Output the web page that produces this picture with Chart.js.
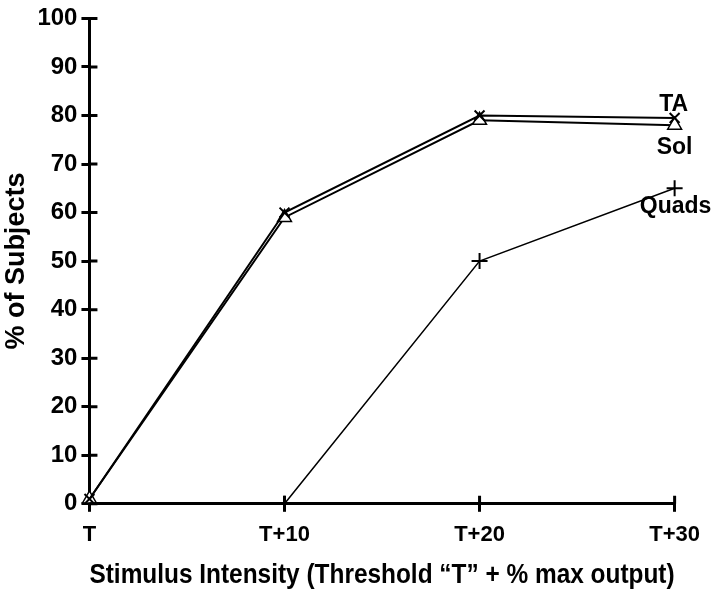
<!DOCTYPE html>
<html>
<head>
<meta charset="utf-8">
<script src="https://cdn.jsdelivr.net/npm/chart.js@4"></script>
<style>
  body { margin: 0; background: #fff; }
  #wrap { width: 720px; height: 592px; }
</style>
</head>
<body>
<div id="wrap"><canvas id="chart" width="720" height="592"></canvas></div>
<script>
const categories = ['T', 'T+10', 'T+20', 'T+30'];
const taValues = [1, 60, 80, 79.5];
const solValues = [1, 59, 79, 78];
const quadsValues = [null, 0, 50, 65];
const seriesNames = ['TA', 'Sol', 'Quads'];
const yTicks = [0, 10, 20, 30, 40, 50, 60, 70, 80, 90, 100];

const FONT = '"Liberation Sans", Arial, sans-serif';

// ticks that cross the axis line (chart.js only draws the outside half)
const innerTicks = {
    id: 'innerTicks',
    afterDraw(chart) {
        const c = chart.ctx;
        const x = chart.scales.x;
        const y = chart.scales.y;
        c.save();
        c.strokeStyle = '#000';
        c.lineWidth = 3;
        c.beginPath();
        yTicks.forEach(v => {
            const py = y.getPixelForValue(v);
            c.moveTo(x.left, py);
            c.lineTo(x.left + 8, py);
        });
        categories.forEach((lab, i) => {
            if (i === 0) return;
            const px = x.getPixelForValue(i);
            c.moveTo(px, y.bottom);
            c.lineTo(px, y.bottom - 8);
        });
        c.stroke();
        c.restore();
    }
};

// series names written next to the last point of each line
const endLabels = {
    id: 'endLabels',
    afterDatasetsDraw(chart) {
        const c = chart.ctx;
        c.save();
        c.fillStyle = '#000';
        c.font = 'bold 23px ' + FONT;
        c.textAlign = 'center';
        const offs = [[-1, -7, 'alphabetic'], [0, 11, 'top'], [1, 7, 'top']];
        chart.data.datasets.forEach((ds, i) => {
            const pts = chart.getDatasetMeta(i).data;
            const p = pts[pts.length - 1];
            c.textBaseline = offs[i][2];
            c.fillText(seriesNames[i], p.x + offs[i][0], p.y + offs[i][1]);
        });
        c.restore();
    }
};

new Chart(document.getElementById('chart'), {
    type: 'line',
    data: {
        labels: categories,
        datasets: [
            {
                label: seriesNames[0],
                data: taValues,
                borderColor: '#000',
                borderWidth: 2,
                pointStyle: 'crossRot',
                pointRadius: 7,
                pointBorderColor: '#000',
                pointBorderWidth: 2,
                tension: 0
            },
            {
                label: seriesNames[1],
                data: solValues,
                borderColor: '#000',
                borderWidth: 2,
                pointStyle: 'triangle',
                pointRadius: 8,
                pointBackgroundColor: '#fff',
                pointBorderColor: '#000',
                pointBorderWidth: 1.5,
                tension: 0
            },
            {
                label: seriesNames[2],
                data: quadsValues,
                borderColor: '#000',
                borderWidth: 1.5,
                pointStyle: 'cross',
                pointRadius: 8,
                pointBorderColor: '#000',
                pointBorderWidth: 2,
                tension: 0
            }
        ]
    },
    options: {
        responsive: false,
        animation: false,
        layout: { padding: { top: 12, right: 40, left: 0, bottom: 0 } },
        plugins: {
            legend: { display: false },
            tooltip: { enabled: false }
        },
        scales: {
            x: {
                offset: false,
                border: { display: true, color: '#000', width: 3 },
                grid: { display: true, drawOnChartArea: false, color: '#000', lineWidth: 3, tickLength: 8 },
                ticks: { color: '#000', font: { family: FONT, size: 22, weight: 'bold', lineHeight: 0.3 }, padding: 20, maxRotation: 0 },
                title: {
                    display: true,
                    text: 'Stimulus Intensity (Threshold \u201cT\u201d + % max output)',
                    color: '#000',
                    font: { family: FONT, size: 28, weight: 'bold' },
                    padding: { top: 0, bottom: 0 }
                }
            },
            y: {
                min: 0,
                max: 100,
                border: { display: true, color: '#000', width: 3 },
                grid: { display: true, drawOnChartArea: false, color: '#000', lineWidth: 3, tickLength: 8 },
                ticks: { stepSize: 10, color: '#000', font: { family: FONT, size: 24, weight: 'bold' }, padding: 4 },
                title: {
                    display: true,
                    text: '% of Subjects',
                    color: '#000',
                    font: { family: FONT, size: 27, weight: 'bold' },
                    padding: { top: 0, bottom: 1 }
                }
            }
        }
    },
    plugins: [innerTicks, endLabels]
});
</script>
</body>
</html>
